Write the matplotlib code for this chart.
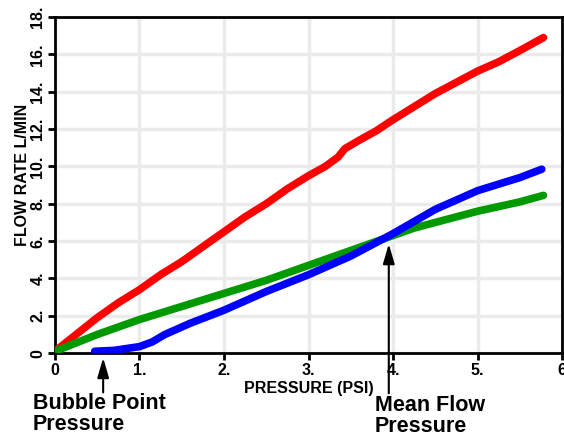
import matplotlib
matplotlib.use("Agg")
import matplotlib.pyplot as plt
import numpy as np

plt.rcParams['font.family'] = ['Liberation Sans', 'DejaVu Sans']

# pressure (psi) / flow rate (L/min)
redX   = [0.0, 0.25, 0.5, 0.75, 1.0, 1.25, 1.5, 1.75, 2.0, 2.25, 2.5, 2.75, 3.0, 3.2, 3.35, 3.43, 3.6, 3.8, 4.0, 4.25, 4.5, 4.75, 5.0, 5.25, 5.5, 5.78]
redY   = [0.1, 1.0, 1.9, 2.7, 3.4, 4.2, 4.9, 5.7, 6.5, 7.3, 8.0, 8.8, 9.5, 10.0, 10.5, 10.95, 11.4, 11.9, 12.5, 13.2, 13.9, 14.5, 15.1, 15.6, 16.2, 16.9]
greenX = [0.0, 0.5, 1.0, 1.5, 2.0, 2.5, 3.0, 3.5, 4.0, 4.25, 4.5, 5.0, 5.5, 5.78]
greenY = [0.1, 1.0, 1.8, 2.5, 3.2, 3.9, 4.7, 5.5, 6.3, 6.7, 7.0, 7.6, 8.1, 8.45]
blueX  = [0.47, 0.7, 1.0, 1.15, 1.3, 1.6, 2.0, 2.5, 3.0, 3.5, 4.0, 4.5, 5.0, 5.5, 5.76]
blueY  = [0.1, 0.15, 0.35, 0.6, 1.0, 1.6, 2.3, 3.3, 4.2, 5.2, 6.4, 7.7, 8.7, 9.4, 9.85]

xTicks = [0, 1, 2, 3, 4, 5, 6]
xLabels = ['0', '1.', '2.', '3.', '4.', '5.', '6']
yTicks = [0, 2, 4, 6, 8, 10, 12, 14, 16, 18]
yLabels = ['0', '2.', '4.', '6.', '8.', '10.', '12.', '14.', '16.', '18.']

bubblePoint = 0.57
meanFlow = 3.95
meanFlowY = 6.0

fig = plt.figure(figsize=(5.64, 4.36), dpi=100)
ax = fig.add_axes([0.0975, 0.19, 0.899, 0.771])

ax.grid(True, color='#ebebeb', linewidth=2.5, zorder=0)
ax.set_axisbelow(True)

ax.plot(redX, redY, color='#ff0000', linewidth=5.5, solid_capstyle='round', solid_joinstyle='round', zorder=3)
ax.plot(greenX, greenY, color='#009900', linewidth=5.5, solid_capstyle='round', solid_joinstyle='round', zorder=3)
ax.plot(blueX, blueY, color='#0000ff', linewidth=5.5, solid_capstyle='round', solid_joinstyle='round', zorder=4)

ax.set_xlim(0, 6)
ax.set_ylim(0, 18)
ax.set_xticks(xTicks)
ax.set_xticklabels(xLabels, fontweight='bold', fontsize=11.5)
ax.set_yticks(yTicks)
ax.set_yticklabels(yLabels, fontweight='bold', fontsize=11.5, rotation=90, va='center')
ax.tick_params(width=2, length=5, direction='out', pad=2)

for s in ax.spines.values():
    s.set_linewidth(2)

ax.set_xlabel("PRESSURE (PSI)", fontweight='bold', fontsize=11.5, labelpad=2)
ax.set_ylabel("FLOW RATE L/MIN", fontweight='bold', fontsize=11.5)
ax.yaxis.set_label_coords(-0.05, 0.53)

# arrows below the axis
ax.annotate("", xy=(bubblePoint, -0.1), xytext=(bubblePoint, -2.25),
            arrowprops=dict(arrowstyle='-|>,head_width=0.35,head_length=1.2', color='black', lw=1.5),
            annotation_clip=False)
fig.text(33/564, 1 - 414/436, "Bubble Point\nPressure", fontsize=15.5, fontweight='bold',
         va='center', ha='left', linespacing=0.95)

ax.annotate("", xy=(meanFlow, meanFlowY), xytext=(meanFlow, -2.3),
            arrowprops=dict(arrowstyle='-|>,head_width=0.35,head_length=1.2', color='black', lw=1.5),
            annotation_clip=False)
fig.text(375/564, 1 - 416/436, "Mean Flow\nPressure", fontsize=15.5, fontweight='bold',
         va='center', ha='left', linespacing=0.95)

fig.savefig("out.png", dpi=100)
